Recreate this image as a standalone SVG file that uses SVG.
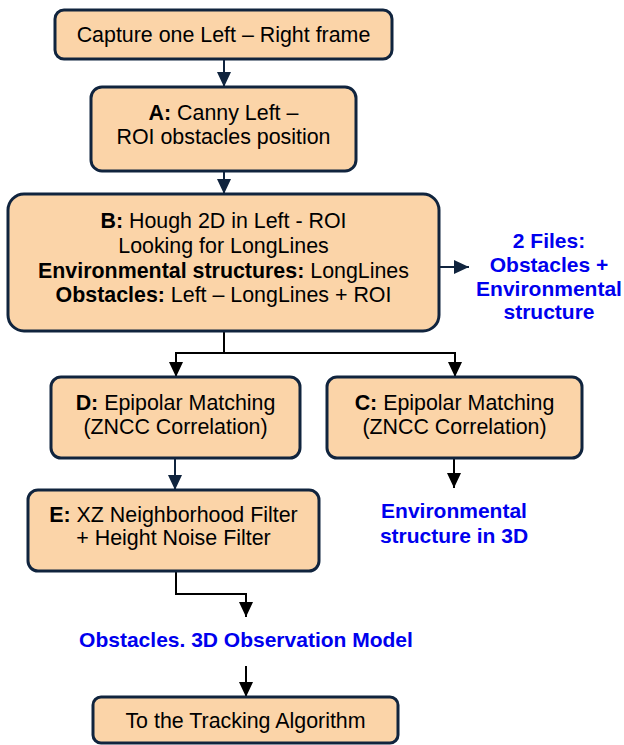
<svg xmlns="http://www.w3.org/2000/svg" width="624" height="745" viewBox="0 0 624 745">
<defs>
<style>
.box{fill:#FBD4A8;stroke:#10243E;stroke-width:3}
.t{font-family:"Liberation Sans",Arial,sans-serif;font-size:21.4px;fill:#000;text-anchor:middle}
.b{font-weight:bold}
.blue{font-family:"Liberation Sans",Arial,sans-serif;font-size:21px;font-weight:bold;fill:#0000EE;text-anchor:middle}
.c{fill:none;stroke-width:2}
.navy{stroke:#10243E}
.blk{stroke:#000}
</style>
<marker id="an" viewBox="0 0 15 14" refX="15" refY="7" markerWidth="15" markerHeight="14" markerUnits="userSpaceOnUse" orient="auto"><path d="M0,0 L15,7 L0,14 z" fill="#10243E"/></marker>
<marker id="ab" viewBox="0 0 15 14" refX="15" refY="7" markerWidth="15" markerHeight="14" markerUnits="userSpaceOnUse" orient="auto"><path d="M0,0 L15,7 L0,14 z" fill="#000"/></marker>
</defs>
<g id="connectors">
<path class="c navy" d="M224,59 V87" marker-end="url(#an)"/>
<path class="c navy" d="M224,171 V194" marker-end="url(#an)"/>
<path class="c navy" d="M439,267 H469" marker-end="url(#an)"/>
<path class="c blk" d="M224,331 V353 H176 V377" marker-end="url(#ab)"/>
<path class="c blk" d="M224,353 H455 V377" marker-end="url(#ab)"/>
<path class="c navy" d="M175,458 V490" marker-end="url(#an)"/>
<path class="c blk" d="M454,458 V488" marker-end="url(#ab)"/>
<path class="c blk" d="M176,571 V594 H246 V617" marker-end="url(#ab)"/>
<path class="c blk" d="M246,666 V697" marker-end="url(#ab)"/>
</g>
<g id="capture">
<rect class="box" x="55" y="10" width="337" height="49" rx="9"/>
<text class="t" x="223.5" y="42">Capture one Left – Right frame</text>
</g>
<g id="nodeA">
<rect class="box" x="91" y="87" width="265" height="84" rx="11"/>
<text class="t" x="223.5" y="120"><tspan class="b">A:</tspan> Canny Left –</text>
<text class="t" x="223.5" y="144">ROI obstacles position</text>
</g>
<g id="nodeB">
<rect class="box" x="8" y="194" width="431" height="137" rx="16"/>
<text class="t" x="223.5" y="228"><tspan class="b">B:</tspan> Hough 2D in Left - ROI</text>
<text class="t" x="223.5" y="253">Looking for LongLines</text>
<text class="t" x="223.5" y="278"><tspan class="b">Environmental structures:</tspan> LongLines</text>
<text class="t" x="223.5" y="302"><tspan class="b">Obstacles:</tspan> Left – LongLines + ROI</text>
</g>
<g id="files">
<text class="blue" x="549" y="248">2 Files:</text>
<text class="blue" x="549" y="272">Obstacles +</text>
<text class="blue" x="549" y="296">Environmental</text>
<text class="blue" x="549" y="319">structure</text>
</g>
<g id="nodeD">
<rect class="box" x="51" y="377" width="249" height="81" rx="10"/>
<text class="t" x="175.5" y="410"><tspan class="b">D:</tspan> Epipolar Matching</text>
<text class="t" x="175.5" y="434">(ZNCC Correlation)</text>
</g>
<g id="nodeC">
<rect class="box" x="327" y="377" width="255" height="81" rx="10"/>
<text class="t" x="454.5" y="410"><tspan class="b">C:</tspan> Epipolar Matching</text>
<text class="t" x="454.5" y="434">(ZNCC Correlation)</text>
</g>
<g id="env3d">
<text class="blue" x="454" y="518">Environmental</text>
<text class="blue" x="454" y="543">structure in 3D</text>
</g>
<g id="nodeE">
<rect class="box" x="28" y="490" width="291" height="81" rx="10"/>
<text class="t" x="173.5" y="522"><tspan class="b">E:</tspan> XZ Neighborhood Filter</text>
<text class="t" x="173.5" y="545">+ Height Noise Filter</text>
</g>
<g id="model">
<text class="blue" x="246" y="647">Obstacles. 3D Observation Model</text>
</g>
<g id="tracking">
<rect class="box" x="93" y="697" width="305" height="46" rx="8"/>
<text class="t" x="245.5" y="728">To the Tracking Algorithm</text>
</g>
</svg>
